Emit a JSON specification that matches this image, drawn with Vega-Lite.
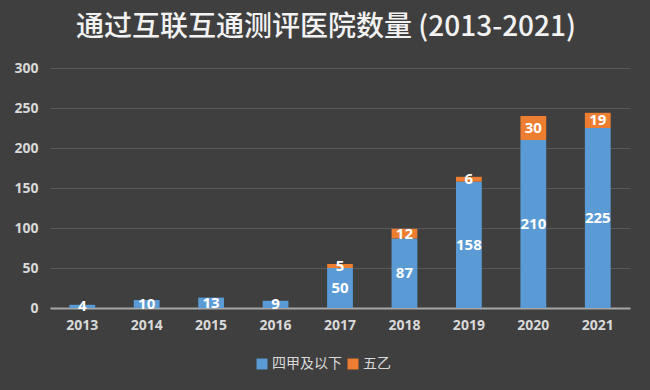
{
  "$schema": "https://vega.github.io/schema/vega-lite/v6.json",
  "autosize": "none",
  "width": 580,
  "height": 240,
  "padding": {"left": 50, "top": 68, "right": 20, "bottom": 82},
  "background": "#3f3f3f",
  "title": {
    "text": "通过互联互通测评医院数量 (2013-2021)",
    "font": "Noto Sans CJK SC",
    "fontSize": 28,
    "fontWeight": 500,
    "color": "#f2f2f2",
    "anchor": "middle",
    "dx": -14,
    "offset": 19
  },
  "config": {
    "view": {"stroke": null},
    "axis": {"labelFont": "Open Sans", "labelFontWeight": "bold", "labelFontSize": 14, "labelColor": "#d9d9d9"}
  },
  "data": {
    "values": [
      {"year": "2013", "type": "四甲及以下", "k": 1, "v": 4},
      {"year": "2014", "type": "四甲及以下", "k": 1, "v": 10},
      {"year": "2015", "type": "四甲及以下", "k": 1, "v": 13},
      {"year": "2016", "type": "四甲及以下", "k": 1, "v": 9},
      {"year": "2017", "type": "四甲及以下", "k": 1, "v": 50},
      {"year": "2018", "type": "四甲及以下", "k": 1, "v": 87},
      {"year": "2019", "type": "四甲及以下", "k": 1, "v": 158},
      {"year": "2020", "type": "四甲及以下", "k": 1, "v": 210},
      {"year": "2021", "type": "四甲及以下", "k": 1, "v": 225},
      {"year": "2017", "type": "五乙", "k": 2, "v": 5},
      {"year": "2018", "type": "五乙", "k": 2, "v": 12},
      {"year": "2019", "type": "五乙", "k": 2, "v": 6},
      {"year": "2020", "type": "五乙", "k": 2, "v": 30},
      {"year": "2021", "type": "五乙", "k": 2, "v": 19}
    ]
  },
  "transform": [
    {"stack": "v", "groupby": ["year"], "sort": [{"field": "k", "order": "ascending"}], "as": ["y0", "y1"]},
    {"calculate": "(datum.y0 + datum.y1) / 2", "as": "ym"}
  ],
  "encoding": {
    "x": {
      "field": "year", "type": "nominal", "title": null,
      "scale": {"paddingInner": 0.6, "paddingOuter": 0.3},
      "axis": {"labelAngle": 0, "domainColor": "#a6a6a6", "domainWidth": 2, "ticks": false, "labelPadding": 10}
    }
  },
  "layer": [
    {
      "mark": {"type": "bar"},
      "encoding": {
        "y": {
          "field": "y0", "type": "quantitative", "title": null,
          "scale": {"domain": [0, 300]},
          "axis": {"values": [0, 50, 100, 150, 200, 250, 300], "domain": false, "ticks": false, "gridColor": "#595959", "labelPadding": 12, "labelOverlap": false}
        },
        "y2": {"field": "y1"},
        "color": {
          "field": "type", "type": "nominal", "title": null,
          "scale": {"domain": ["四甲及以下", "五乙"], "range": ["#5b9bd5", "#ed7d31"]},
          "legend": {
            "orient": "none", "legendX": 205, "legendY": 289, "direction": "horizontal",
            "symbolType": "square", "symbolSize": 120, "symbolStrokeWidth": 0,
            "labelFont": "Noto Sans CJK SC", "labelFontSize": 14, "labelColor": "#d9d9d9",
            "columnPadding": 4, "labelOffset": 3
          }
        }
      }
    },
    {
      "mark": {"type": "text", "color": "#ffffff", "font": "Open Sans", "fontWeight": "bold", "fontSize": 15, "baseline": "middle"},
      "encoding": {
        "y": {
          "field": "ym", "type": "quantitative",
          "scale": {"domain": [0, 300]},
          "axis": {"values": [0, 50, 100, 150, 200, 250, 300], "domain": false, "ticks": false, "gridColor": "#595959", "labelPadding": 12, "labelOverlap": false}
        },
        "text": {"field": "v", "type": "quantitative"}
      }
    }
  ]
}
